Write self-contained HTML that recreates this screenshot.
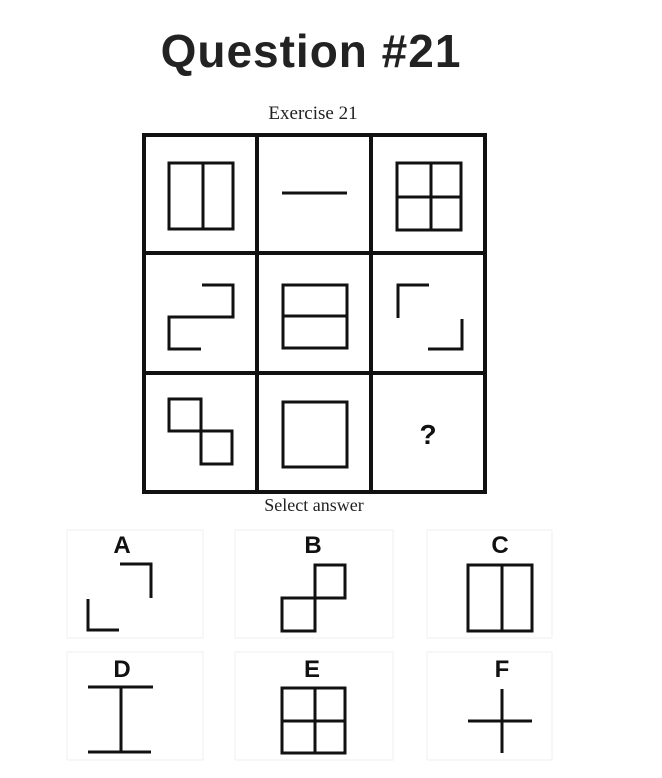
<!DOCTYPE html>
<html><head><meta charset="utf-8"><style>
html,body{margin:0;padding:0;background:#fff;width:662px;height:778px;overflow:hidden}
</style></head><body>
<svg width="662" height="778" viewBox="0 0 662 778" xmlns="http://www.w3.org/2000/svg">
<text x="311" y="67" text-anchor="middle" font-family="Liberation Sans, sans-serif" font-weight="bold" font-size="46" letter-spacing="1" fill="#222">Question #21</text>
<text x="313" y="119" text-anchor="middle" font-family="Liberation Serif, serif" font-size="19" fill="#222">Exercise 21</text>
<g fill="none" stroke="#111" stroke-width="4">
<rect x="144" y="135" width="341" height="357"/>
<line x1="257" y1="135" x2="257" y2="492"/>
<line x1="371" y1="135" x2="371" y2="492"/>
<line x1="144" y1="253" x2="485" y2="253"/>
<line x1="144" y1="373" x2="485" y2="373"/>
</g>
<g fill="none" stroke="#111" stroke-width="3">
<rect x="169" y="163" width="64" height="66"/><line x1="203" y1="163" x2="203" y2="229"/>
<line x1="282" y1="193" x2="347" y2="193"/>
<rect x="397" y="163" width="64" height="67"/><line x1="431" y1="163" x2="431" y2="230"/><line x1="397" y1="197" x2="461" y2="197"/>
<polyline points="202,285 233,285 233,317 169,317 169,349 201,349"/>
<rect x="283" y="285" width="64" height="63"/><line x1="283" y1="316" x2="347" y2="316"/>
<polyline points="398,318 398,285 429,285"/>
<polyline points="462,319 462,349 428,349"/>
<rect x="169" y="399" width="32" height="32"/><rect x="201" y="431" width="31" height="33"/>
<rect x="283" y="402" width="64" height="65"/>
</g>
<text x="428" y="444" text-anchor="middle" font-family="Liberation Sans, sans-serif" font-weight="bold" font-size="28" fill="#111">?</text>
<text x="314" y="511" text-anchor="middle" font-family="Liberation Serif, serif" font-size="18" fill="#222">Select answer</text>
<g fill="none" stroke="#eef0f0" stroke-width="1">
<rect x="67" y="530" width="136" height="108"/><rect x="235" y="530" width="158" height="108"/><rect x="427" y="530" width="125" height="108"/>
<rect x="67" y="652" width="136" height="108"/><rect x="235" y="652" width="158" height="108"/><rect x="427" y="652" width="125" height="108"/>
</g>
<g font-family="Liberation Sans, sans-serif" font-weight="bold" font-size="24" fill="#111" text-anchor="middle">
<text x="122" y="553">A</text><text x="313" y="553">B</text><text x="500" y="553">C</text>
<text x="122" y="677">D</text><text x="312" y="677">E</text><text x="502" y="677">F</text>
</g>
<g fill="none" stroke="#111" stroke-width="3">
<polyline points="120,564 151,564 151,598"/><polyline points="88,599 88,630 119,630"/>
<rect x="315" y="565" width="30" height="33"/><rect x="282" y="598" width="33" height="33"/>
<rect x="468" y="565" width="64" height="66"/><line x1="502" y1="565" x2="502" y2="631"/>
<line x1="88" y1="687" x2="153" y2="687"/><line x1="88" y1="752" x2="151" y2="752"/><line x1="121" y1="687" x2="121" y2="752"/>
<rect x="282" y="688" width="63" height="65"/><line x1="315" y1="688" x2="315" y2="753"/><line x1="282" y1="721" x2="345" y2="721"/>
<line x1="502" y1="689" x2="502" y2="753"/><line x1="468" y1="721" x2="532" y2="721"/>
</g>
</svg>
</body></html>
